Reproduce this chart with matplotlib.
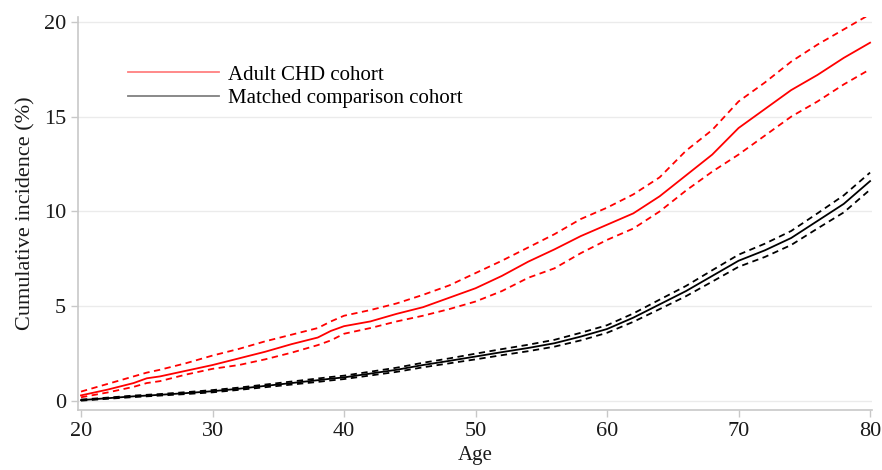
import numpy as np
import matplotlib
matplotlib.use('Agg')
import matplotlib.pyplot as plt
from matplotlib.lines import Line2D

plt.rcParams['font.family'] = ['Liberation Serif', 'DejaVu Serif']

age = [20, 22, 24, 25, 26, 28, 30, 32, 34, 36, 38, 39, 40, 42, 44, 46, 48, 50,
       52, 54, 56, 58, 60, 62, 64, 66, 68, 70, 72, 74, 76, 78, 80]

# Adult CHD cohort (%)
chd = [0.3, 0.6, 0.95, 1.2, 1.3, 1.6, 1.9, 2.25, 2.6, 3.0, 3.35, 3.7, 3.95, 4.2, 4.6, 4.95,
       5.45, 5.95, 6.6, 7.35, 8.0, 8.7, 9.3, 9.9, 10.8, 11.9, 13.0, 14.4, 15.4, 16.4, 17.2, 18.1, 18.9]
chd_hi = [0.5, 0.9, 1.3, 1.5, 1.65, 2.0, 2.4, 2.75, 3.15, 3.5, 3.85, 4.2, 4.5, 4.8, 5.15, 5.6,
          6.1, 6.75, 7.4, 8.1, 8.8, 9.6, 10.2, 10.9, 11.8, 13.2, 14.3, 15.8, 16.8, 17.9, 18.8, 19.6, 20.4]
chd_lo = [0.2, 0.45, 0.75, 0.95, 1.05, 1.4, 1.7, 1.9, 2.2, 2.55, 2.95, 3.2, 3.55, 3.85, 4.2, 4.5,
          4.85, 5.25, 5.8, 6.5, 7.0, 7.8, 8.5, 9.1, 10.0, 11.1, 12.1, 13.0, 14.0, 15.0, 15.8, 16.7, 17.5]

# Matched comparison cohort (%)
ref = [0.05, 0.15, 0.25, 0.29, 0.33, 0.42, 0.52, 0.65, 0.8, 0.95, 1.1, 1.18, 1.25, 1.45, 1.65, 1.9,
       2.12, 2.35, 2.58, 2.8, 3.05, 3.4, 3.8, 4.4, 5.1, 5.8, 6.6, 7.4, 7.95, 8.6, 9.5, 10.4, 11.6]
ref_hi = [0.08, 0.18, 0.29, 0.33, 0.37, 0.47, 0.58, 0.71, 0.87, 1.03, 1.19, 1.27, 1.34, 1.55, 1.76, 2.02,
          2.25, 2.5, 2.74, 2.97, 3.23, 3.6, 4.0, 4.62, 5.35, 6.07, 6.9, 7.72, 8.3, 8.97, 9.9, 10.85, 12.05]
ref_lo = [0.02, 0.12, 0.21, 0.25, 0.29, 0.37, 0.46, 0.59, 0.73, 0.87, 1.01, 1.09, 1.16, 1.35, 1.54, 1.78,
          1.99, 2.2, 2.42, 2.63, 2.87, 3.2, 3.6, 4.18, 4.85, 5.53, 6.3, 7.08, 7.6, 8.23, 9.1, 9.95, 11.15]

fig = plt.figure(figsize=(8.82, 4.70), dpi=100)
ax = fig.add_axes([0.0884, 0.1277, 0.9003, 0.8363])

ax.plot(age, chd, color='#ff0000', lw=1.3)
ax.plot(age, chd_hi, color='#ff0000', lw=1.3, ls=(0, (3.5, 2.5)))
ax.plot(age, chd_lo, color='#ff0000', lw=1.3, ls=(0, (3.5, 2.5)))
ax.plot(age, ref, color='black', lw=1.3)
ax.plot(age, ref_hi, color='black', lw=1.3, ls=(0, (3.5, 2.5)))
ax.plot(age, ref_lo, color='black', lw=1.3, ls=(0, (3.5, 2.5)))

ax.set_xlim(19.77, 80.15)
ax.set_ylim(-0.47, 20.26)
ax.set_xticks(range(20, 81, 10))
ax.set_yticks(range(0, 21, 5))
ax.yaxis.grid(True, color='#ebebeb', lw=1)
ax.set_axisbelow(True)

for s in ['top', 'right']:
    ax.spines[s].set_visible(False)
for s in ['left', 'bottom']:
    ax.spines[s].set_color('#c8c8c8')
    ax.spines[s].set_linewidth(1.2)
ax.tick_params(colors='#c8c8c8', labelcolor='#1a1a1a', labelsize=16, length=5, width=1)

ax.set_xlabel('Age', fontsize=15, color='#1a1a1a', labelpad=4)
ax.set_ylabel('Cumulative incidence (%)', fontsize=16, color='#1a1a1a', labelpad=6)

handles = [Line2D([], [], color='#ff8080', lw=1.3), Line2D([], [], color='#808080', lw=1.3)]
ax.legend(handles, ['Adult CHD cohort', 'Matched comparison cohort'], loc='upper left',
          bbox_to_anchor=(0.039, 0.925), frameon=False, fontsize=15, handlelength=4.4,
          handletextpad=0.4, labelspacing=0.18)

fig.savefig('out.png', dpi=100)
